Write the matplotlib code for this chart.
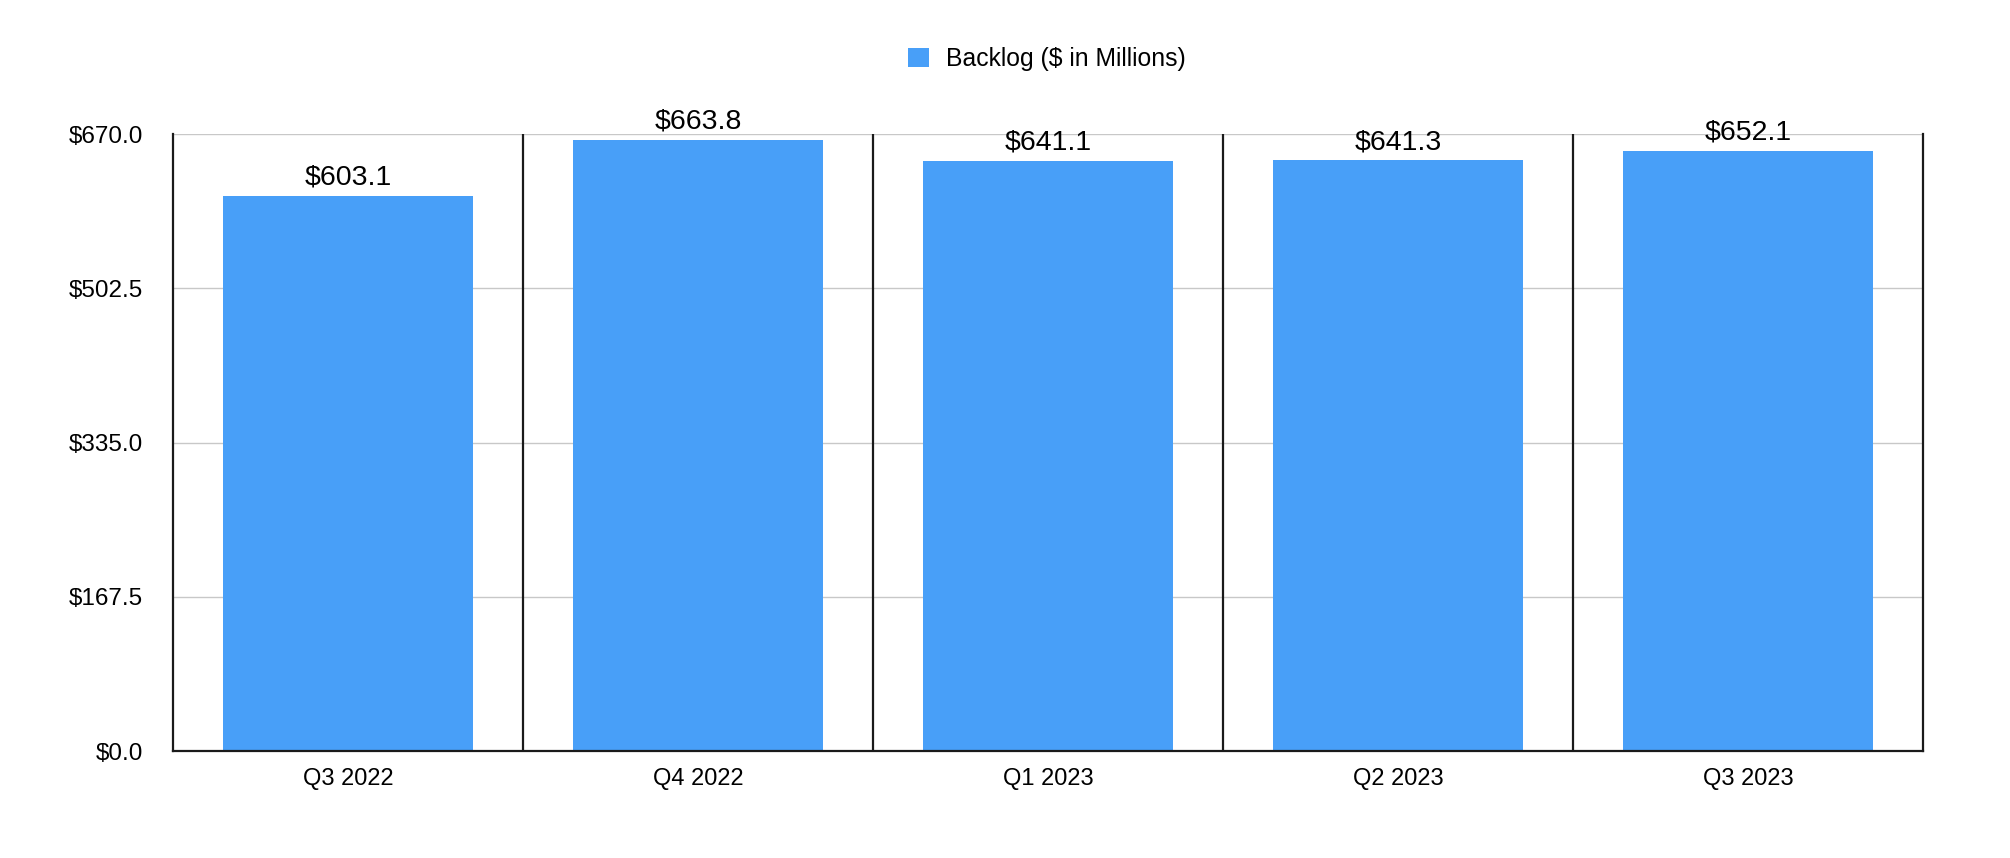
import matplotlib
matplotlib.use('Agg')
from matplotlib import pyplot as plt
from matplotlib.ticker import FuncFormatter

plt.rcParams['font.family'] = ['Liberation Sans', 'DejaVu Sans']

# Daten
quarters = ['Q3 2022', 'Q4 2022', 'Q1 2023', 'Q2 2023', 'Q3 2023']
backlog = [603.1, 663.8, 641.1, 641.3, 652.1]
y_ticks = [0.0, 167.5, 335.0, 502.5, 670.0]

bar_color = '#489ff8'

fig = plt.figure(figsize=(20.10, 8.58), dpi=100)
ax = fig.add_axes([0.0861, 0.1247, 0.8706, 0.7191])

x = list(range(len(quarters)))
bars = ax.bar(x, backlog, width=0.714, color=bar_color, label='Backlog ($ in Millions)', zorder=3)

# Beschriftungen ueber den Balken
for xi, v in zip(x, backlog):
    ax.annotate('$%.1f' % v, (xi, v), xytext=(0, 3.5), textcoords='offset points',
                ha='center', va='bottom', fontsize=20.5, zorder=4)

ax.set_xlim(-0.5, len(quarters) - 0.5)
ax.set_ylim(0, 670)
ax.set_yticks(y_ticks)
ax.yaxis.set_major_formatter(FuncFormatter(lambda v, p: '$%.1f' % v))
ax.set_xticks(x)
ax.set_xticklabels(quarters)
ax.tick_params(axis='both', length=0)
ax.tick_params(axis='y', pad=21.5, labelsize=17.5)
ax.tick_params(axis='x', pad=12, labelsize=17)

# Gitterlinien und Trennlinien
ax.grid(axis='y', color='#c8c8c8', linewidth=1.0, zorder=0)
for b in range(1, len(quarters)):
    ax.axvline(b - 0.5, color='#1a1a1a', linewidth=1.6, zorder=2)

for side in ['left', 'right', 'bottom']:
    ax.spines[side].set_color('#1a1a1a')
    ax.spines[side].set_linewidth(1.6)
    ax.spines[side].set_zorder(5)
ax.spines['top'].set_visible(False)

fig.legend(loc='center', bbox_to_anchor=(0.521, 0.931), frameon=False, fontsize=17.8,
           handlelength=0.85, handleheight=0.85, handletextpad=0.7)

fig.savefig('out.png', dpi=100, facecolor='white')
